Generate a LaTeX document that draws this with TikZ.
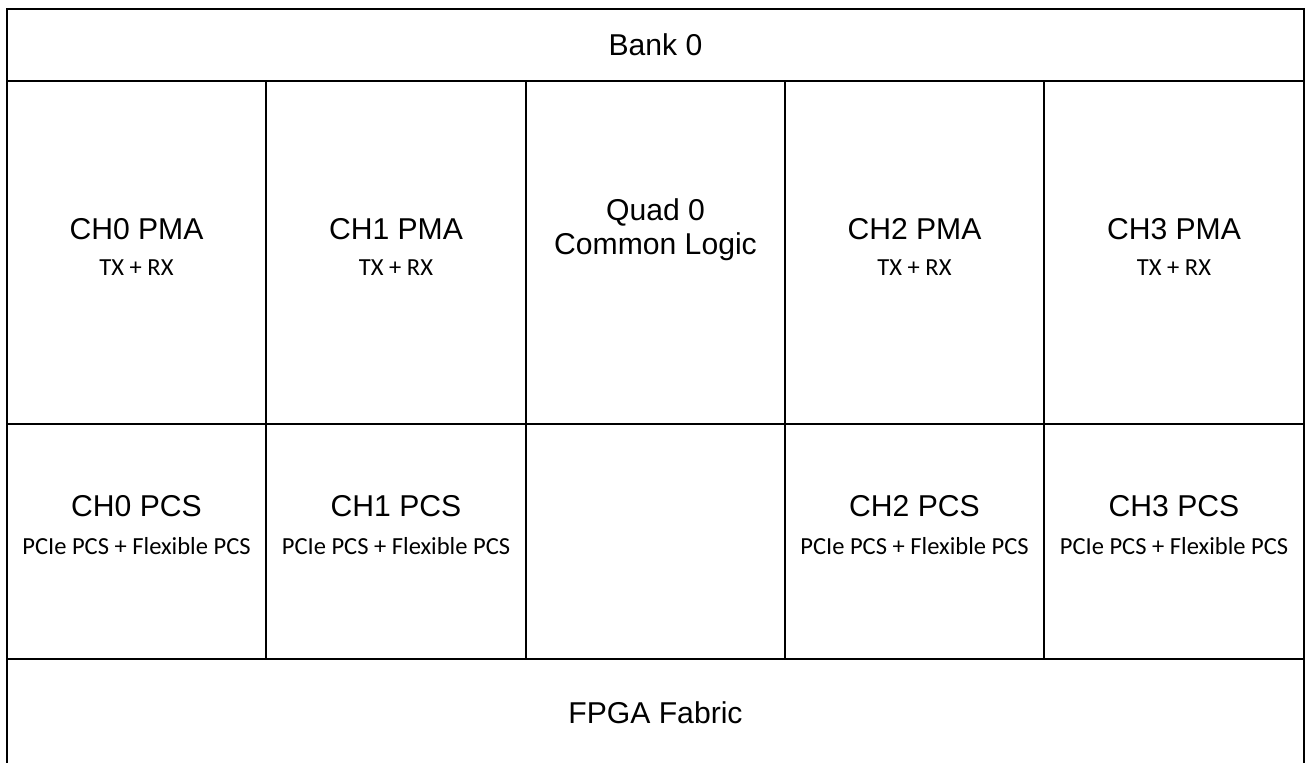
\documentclass[tikz,border=0pt]{standalone}
\usepackage{fontspec}
\setmainfont{Liberation Sans}
\newfontfamily\calibrifont{Carlito}
\usepackage{tikz}

\tikzset{
	bigtext/.style={anchor=base, inner sep=0pt, font=\fontsize{22.6}{27}\selectfont},
	smalltext/.style={anchor=base, inner sep=0pt, font=\calibrifont\fontsize{18.4}{22}\selectfont},
}

\begin{document}
\begin{tikzpicture}[x=0.75pt, y=-0.75pt, line width=1.5pt]
\useasboundingbox (0,0) rectangle (1307,763);
\draw (7,763)--(7,9)--(1304,9)--(1304,763);
\draw (7,81)--(1304,81);
\draw (7,424)--(1304,424);
\draw (7,659)--(1304,659);
\foreach \x in {266,526,785,1044}{
	\draw (\x,81)--(\x,659);
}
\node[bigtext] (bank) at (655.5,56) {Bank 0};
\foreach \c/\x in {0/136.5, 1/396, 2/914.5, 3/1174}{
	\node[bigtext] (pma\c) at (\x,239) {CH\c{} PMA};
	\node[smalltext] (pmasub\c) at (\x,276) {TX + RX};
	\node[bigtext] (pcs\c) at (\x,516) {CH\c{} PCS};
	\node[smalltext] (pcssub\c) at (\x,554) {PCIe PCS + Flexible PCS};
}
\node[bigtext] (quad) at (655.5,221) {Quad 0};
\node[bigtext] (common) at (655.5,254) {Common Logic};
\node[bigtext] (fabric) at (655.5,723) {FPGA Fabric};
\end{tikzpicture}
\end{document}
